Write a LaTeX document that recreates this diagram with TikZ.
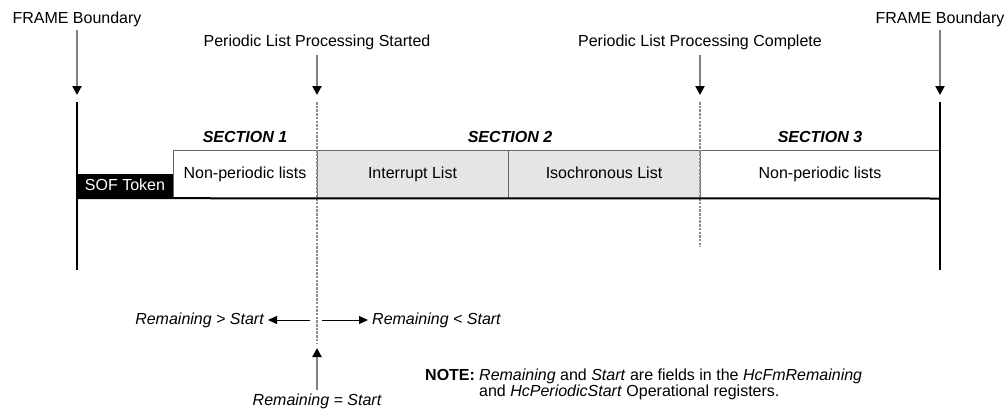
\documentclass[tikz,border=0pt]{standalone}
\usepackage{fontspec}
\setmainfont{Liberation Sans}
\usetikzlibrary{arrows.meta}
\begin{document}
\begin{tikzpicture}[x=1pt,y=-1pt,
  lbl/.style={inner sep=0pt,font=\fontsize{16}{16}\selectfont},
  sec/.style={lbl,font=\fontsize{16}{16}\selectfont\bfseries\itshape},
  listbox/.style={draw=black!60,line width=1pt,minimum height=48pt,inner sep=0pt,text height=11.5pt,text depth=3.5pt,font=\fontsize{16}{16}\selectfont},
  framel/.style={line width=2pt,black},
  marker/.style={draw=black!50,line width=2pt,-{Triangle[length=9pt,width=9pt,color=black]}},
  dashl/.style={draw=black!45,line width=1.2pt,dash pattern=on 2.5pt off 1.2pt},
  harrow/.style={draw=black,line width=1pt,-{Triangle[length=9pt,width=8pt]}}
]
\useasboundingbox (0,0) rectangle (1005,410);
% top labels
\node[lbl] (fbl) at (77,19) {FRAME Boundary};
\node[lbl] (fbr) at (940,19) {FRAME Boundary};
\node[lbl] (pls) at (317,42) {Periodic List Processing Started};
\node[lbl] (plc) at (700,42) {Periodic List Processing Complete};
% coordinates
\coordinate (al0) at (77,30);   \coordinate (al1) at (77,95);
\coordinate (ar0) at (940,30);  \coordinate (ar1) at (940,95);
\coordinate (as0) at (317,55);  \coordinate (as1) at (317,95);
\coordinate (ac0) at (700,55);  \coordinate (ac1) at (700,95);
\coordinate (fl0) at (77,102);  \coordinate (fl1) at (77,270);
\coordinate (fr0) at (940,102); \coordinate (fr1) at (940,270);
\coordinate (ds0) at (317,102); \coordinate (ds1) at (317,343);
\coordinate (dc0) at (700,102); \coordinate (dc1) at (700,247);
% section labels
\node[sec] (s1) at (245,137) {SECTION 1};
\node[sec] (s2) at (510,137) {SECTION 2};
\node[sec] (s3) at (820,137) {SECTION 3};
% boxes
\node[listbox,fill=white,minimum width=144pt] (np1) at (245,174) {Non-periodic lists};
\node[listbox,fill=black!10,minimum width=191pt] (int) at (412.5,174) {Interrupt List};
\node[listbox,fill=black!10,minimum width=192pt] (iso) at (604,174) {Isochronous List};
\node[listbox,fill=white,minimum width=240pt] (np3) at (820,174) {Non-periodic lists};
\node[fill=black,text=white,minimum width=96pt,minimum height=24pt,inner sep=0pt,text height=11.5pt,text depth=3.5pt,font=\fontsize{16}{16}\selectfont] (sof) at (125,186) {SOF Token};
% arrows from labels
\draw[marker] (al0) -- (al1);
\draw[marker] (ar0) -- (ar1);
\draw[marker] (as0) -- (as1);
\draw[marker] (ac0) -- (ac1);
% frame and dashed lines
\draw[dashl] (ds0) -- (ds1);
\draw[dashl] (dc0) -- (dc1);
\draw[framel] (fl0) -- (fl1);
\draw[framel] (fr0) -- (fr1);
\draw[framel] (sof.south west) -- (np3.south east);
% bottom arrows
\node[lbl,anchor=east,font=\fontsize{16}{16}\selectfont\itshape] (rgt) at (264,320) {Remaining > Start};
\node[lbl,anchor=west,font=\fontsize{16}{16}\selectfont\itshape] (rlt) at (372,320) {Remaining < Start};
\node[lbl,font=\fontsize{16}{16}\selectfont\itshape] (req) at (317,401) {Remaining = Start};
\coordinate (hl0) at (310,320); \coordinate (hr0) at (322,320);
\coordinate (up1) at (317,348);
\draw[harrow,shorten >=4pt] (hl0) -- (rgt.east);
\draw[harrow,shorten >=4pt] (hr0) -- (rlt.west);
\draw[marker] ([yshift=3pt]req.north) -- (up1);
% note
\node[lbl,anchor=base west,font=\fontsize{16}{16}\selectfont\bfseries] (note) at (425,380) {NOTE:};
\node[lbl,anchor=base west] (n1) at (479,380) {\textit{Remaining} and \textit{Start} are fields in the \textit{HcFmRemaining}};
\node[lbl,anchor=base west] (n2) at (479,396) {and \textit{HcPeriodicStart} Operational registers.};
\end{tikzpicture}
\end{document}
